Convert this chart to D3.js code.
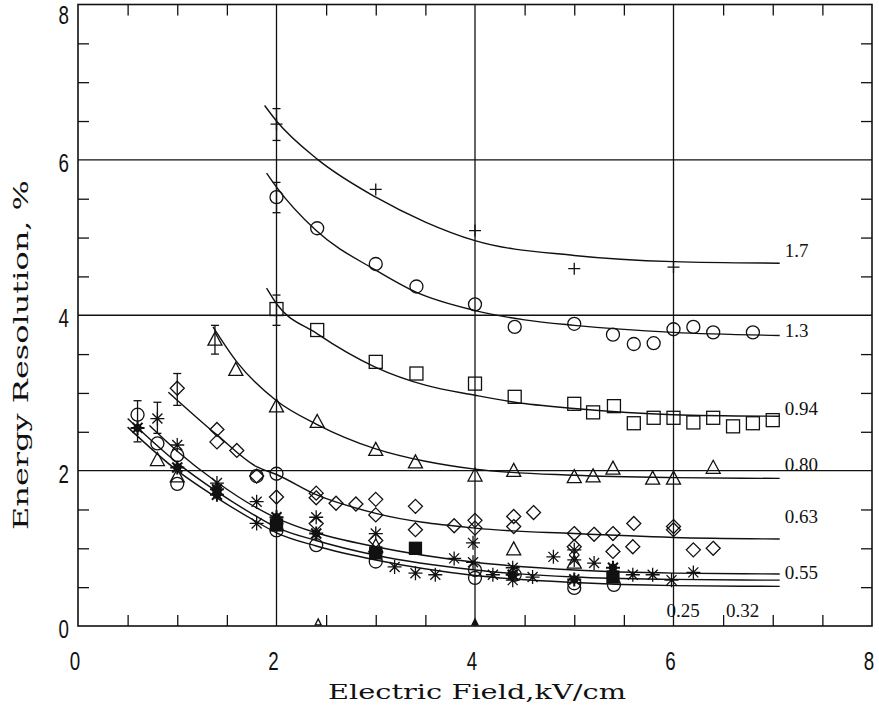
<!DOCTYPE html>
<html>
<head>
<meta charset="utf-8">
<script src="https://cdn.jsdelivr.net/npm/d3@7"></script>
<style>
  html, body { margin: 0; padding: 0; background: #fff; }
  svg { display: block; }
</style>
</head>
<body>
<svg id="chart" width="879" height="714"></svg>
<script>
// ---- axis ticks ----
const xTickValues = [0, 2, 4, 6, 8];
const yTickValues = [0, 2, 4, 6, 8];
const minorStep = 0.5;

// ---- fitted curves (E field kV/cm, resolution %) ----
const curve17  = [[1.88,6.70],[2,6.50],[2.42,6.0],[3,5.52],[3.5,5.20],[4,4.96],[5,4.77],[6,4.69],[7.07,4.67]];
const curve13  = [[1.9,5.83],[2,5.65],[2.4,5.09],[3,4.58],[3.4,4.30],[4,4.06],[4.5,3.94],[5,3.87],[6,3.78],[7.07,3.74]];
const curve094 = [[1.9,4.35],[2,4.15],[2.4,3.77],[3,3.33],[3.5,3.10],[4,2.97],[4.4,2.88],[5,2.80],[6,2.72],[7.07,2.70]];
const curve080 = [[1.36,3.85],[1.6,3.40],[2,2.90],[2.4,2.60],[3,2.28],[3.5,2.12],[4,2.02],[5,1.94],[6,1.91],[7.07,1.90]];
const curve063 = [[0.91,3.01],[1.4,2.46],[1.8,2.05],[2,1.95],[2.4,1.69],[3,1.45],[4,1.26],[5,1.19],[6,1.14],[7.07,1.12]];
const curve055 = [[0.72,2.58],[1,2.25],[1.4,1.85],[1.8,1.52],[2,1.39],[2.4,1.20],[3,1.02],[4,0.82],[5,0.72],[6,0.68],[7.07,0.67]];
const curve032 = [[0.5,2.67],[1,2.10],[1.4,1.73],[1.8,1.41],[2,1.27],[2.4,1.10],[3,0.91],[4,0.72],[5,0.63],[6,0.60],[7.07,0.59]];
const curve025 = [[0.5,2.56],[1,2.00],[1.4,1.65],[1.8,1.34],[2,1.20],[2.4,1.03],[3,0.85],[4,0.65],[5,0.56],[6,0.52],[7.07,0.51]];

// ---- measured points ----
const plusPoints = [[2,6.46],[3,5.62],[4,5.09],[5,4.60],[6,4.62]];
const circlePoints = [[2,5.52],[2.41,5.12],[3,4.66],[3.41,4.37],[4,4.14],[4.4,3.85],[5,3.89],[5.39,3.75],[5.6,3.63],[5.8,3.64],[6,3.82],[6.2,3.85],[6.4,3.78],[6.8,3.78],
  [0.6,2.72],[0.8,2.35],[1,2.20],[1,1.83],[1.8,1.93],[2,1.96],[2,1.23],[2.4,1.04],[3,0.83],[4,0.72],[4,0.62],[4.4,0.66],[5,0.55],[5,0.49],[5.4,0.53]];
const squarePoints = [[2,4.08],[2.41,3.81],[3,3.40],[3.41,3.25],[4,3.12],[4.4,2.95],[5,2.86],[5.19,2.75],[5.4,2.83],[5.6,2.61],[5.8,2.68],[6,2.68],[6.2,2.62],[6.4,2.68],[6.6,2.57],[6.8,2.61],[7,2.65]];
const trianglePoints = [[1.38,3.68],[1.59,3.29],[2,2.82],[2.41,2.62],[3,2.26],[3.4,2.10],[4,1.93],[4.39,1.99],[5,1.91],[5.19,1.92],[5.39,2.02],[5.79,1.89],[6,1.89],[6.4,2.03],
  [0.8,2.13],[1,1.92],[3,1.02],[4.39,0.98],[5,0.81]];
const smallTrianglePoints = [[2.42,0.04],[4,0.04]];
const diamondPoints = [[1,3.06],[1.4,2.53],[1.4,2.37],[1.6,2.26],[1.8,1.93],[2,1.66],[2.4,1.71],[2.4,1.65],[2.6,1.58],[2.8,1.57],[3,1.63],[3,1.43],[3.4,1.54],[3.4,1.24],[3.79,1.29],[4,1.36],[4,1.26],
  [4.39,1.41],[4.39,1.28],[4.59,1.46],[5,1.19],[5.2,1.18],[5.39,1.19],[5.6,1.32],[6,1.28],[6,1.24],[5,1.02],[5.39,0.96],[5.59,1.02],[6.2,0.98],[6.4,1.0],[2.4,1.32],[3,1.10]];
const asteriskPoints = [[0.8,2.67],[1,2.33],[1.4,1.84],[1.8,1.60],[1.8,1.32],[2.4,1.40],[3,1.19],[3.19,0.76],[3.4,0.68],[3.6,0.66],[3.79,0.87],[3.98,1.07],[3.98,0.82],[4.18,0.66],
  [4.38,0.75],[4.38,0.59],[4.58,0.63],[4.79,0.89],[5,0.98],[5,0.85],[5.2,0.81],[5.59,0.66],[5.79,0.66],[5.98,0.59],[6.2,0.69]];
const boldAsteriskPoints = [[0.6,2.55],[1,2.04],[1.4,1.69],[1.4,1.76],[2,1.32],[2,1.40],[2.4,1.19],[3,0.94],[4.38,0.66],[5.39,0.75],[5,0.60]];
const filledSquarePoints = [[3.4,1.0],[2,1.30],[5.39,0.63],[3,0.94]];

// error bars: [x, low, high]
const errorBars = [[2,6.25,6.66],[2,5.32,5.71],[2,3.87,4.26],[1.38,3.50,3.87],[1,2.84,3.25],[0.6,2.37,2.90],[0.8,2.48,2.88]];

// curve end labels: [text, x, y]
const curveLabels = [["1.7",7.12,4.75],["1.3",7.12,3.72],["0.94",7.12,2.71],["0.80",7.12,1.99],["0.63",7.12,1.32],["0.55",7.12,0.61],["0.25",5.93,0.11],["0.32",6.53,0.11]];

// ---- layout ----
const svg = d3.select("#chart");
const x = d3.scaleLinear().domain([0, 8]).range([78, 872]);
const y = d3.scaleLinear().domain([0, 8]).range([626, 4.5]);
const ink = "#111";

const minorX = d3.range(0, 8.0001, minorStep).filter(v => v % 2 !== 0);
const minorY = d3.range(0, 8.0001, minorStep).filter(v => v % 2 !== 0);

// inward minor ticks via d3 axes
const tickLen = 11;
const axes = [
  [d3.axisBottom(x).tickValues(minorX).tickSize(-tickLen).tickFormat(""), `translate(0,${y(0)})`],
  [d3.axisTop(x).tickValues(minorX).tickSize(-tickLen).tickFormat(""), `translate(0,${y(8)})`],
  [d3.axisLeft(y).tickValues(minorY).tickSize(-tickLen).tickFormat(""), `translate(${x(0)},0)`],
  [d3.axisRight(y).tickValues(minorY).tickSize(-tickLen).tickFormat(""), `translate(${x(8)},0)`]
];
axes.forEach(([ax, tr]) => {
  const g = svg.append("g").attr("transform", tr).call(ax);
  g.select(".domain").remove();
  g.selectAll("line").attr("stroke", ink).attr("stroke-width", 1.3);
});

// grid lines at the major values
const gridG = svg.append("g").attr("stroke", ink).attr("stroke-width", 1.3);
gridG.selectAll(".gx").data([2, 4, 6]).join("line")
  .attr("x1", d => x(d)).attr("x2", d => x(d)).attr("y1", y(0)).attr("y2", y(8));
gridG.selectAll(".gy").data([2, 4, 6]).join("line")
  .attr("y1", d => y(d)).attr("y2", d => y(d)).attr("x1", x(0)).attr("x2", x(8));

// frame
svg.append("rect").attr("x", x(0)).attr("y", y(8)).attr("width", x(8) - x(0)).attr("height", y(0) - y(8))
  .attr("fill", "none").attr("stroke", ink).attr("stroke-width", 1.6);

// tick labels: tall, narrow digits
const tickFont = "'Liberation Sans', Arial, sans-serif";
svg.append("g").selectAll("text").data(xTickValues).join("text")
  .attr("transform", d => `translate(${x(d) - 3},670) scale(0.75,1)`).attr("text-anchor", "middle")
  .attr("font-family", tickFont).attr("font-size", 25).attr("fill", ink).text(d => d);
svg.append("g").selectAll("text").data(yTickValues).join("text")
  .attr("transform", d => `translate(69,${Math.max(y(d) + 12, 24)}) scale(0.75,1)`).attr("text-anchor", "end")
  .attr("font-family", tickFont).attr("font-size", 25).attr("fill", ink).text(d => d);

// axis titles
const titleFont = "'DejaVu Serif', 'Liberation Serif', serif";
svg.append("text").attr("x", 477).attr("y", 699).attr("text-anchor", "middle")
  .attr("font-family", titleFont).attr("font-size", 20).attr("fill", ink)
  .attr("textLength", 298).attr("lengthAdjust", "spacingAndGlyphs")
  .text("Electric Field,kV/cm");
svg.append("text").attr("transform", "translate(28,355) rotate(-90)").attr("text-anchor", "middle")
  .attr("font-family", titleFont).attr("font-size", 21).attr("fill", ink)
  .attr("textLength", 350).attr("lengthAdjust", "spacingAndGlyphs")
  .text("Energy Resolution, %");

// curves
const line = d3.line().x(d => x(d[0])).y(d => y(d[1])).curve(d3.curveMonotoneX);
svg.append("g").attr("fill", "none").attr("stroke", ink).attr("stroke-width", 1.4)
  .selectAll("path").data([curve17, curve13, curve094, curve080, curve063, curve055, curve032, curve025]).join("path")
  .attr("d", line);

// error bars
const eb = svg.append("g").attr("stroke", ink).attr("stroke-width", 1.3);
errorBars.forEach(([ex, lo, hi]) => {
  eb.append("line").attr("x1", x(ex)).attr("x2", x(ex)).attr("y1", y(lo)).attr("y2", y(hi));
  eb.append("line").attr("x1", x(ex) - 4).attr("x2", x(ex) + 4).attr("y1", y(lo)).attr("y2", y(lo));
  eb.append("line").attr("x1", x(ex) - 4).attr("x2", x(ex) + 4).attr("y1", y(hi)).attr("y2", y(hi));
});

// markers
const mk = svg.append("g").attr("stroke", ink).attr("stroke-width", 1.3);
const at = d => `translate(${x(d[0])},${y(d[1])})`;

mk.append("g").selectAll("circle").data(circlePoints).join("circle")
  .attr("transform", at).attr("r", 6.5).attr("fill", "none");
mk.append("g").selectAll("rect").data(squarePoints).join("rect")
  .attr("transform", at).attr("x", -6.5).attr("y", -6.5).attr("width", 13).attr("height", 13).attr("fill", "none");
mk.append("g").selectAll("path").data(trianglePoints).join("path")
  .attr("transform", at).attr("d", "M0,-8L7,5L-7,5Z").attr("fill", "none");
mk.append("g").selectAll("path").data(smallTrianglePoints).join("path")
  .attr("transform", at).attr("d", "M0,-4L3,2L-3,2Z").attr("fill", (d, i) => i ? ink : "none");
mk.append("g").selectAll("path").data(diamondPoints).join("path")
  .attr("transform", at).attr("d", "M0,-7L7,0L0,7L-7,0Z").attr("fill", "none");
mk.append("g").selectAll("path").data(plusPoints).join("path")
  .attr("transform", at).attr("d", "M-6,0H6M0,-6V6").attr("fill", "none");
const starPath = "M-7,0H7M0,-7V7M-5,-5L5,5M-5,5L5,-5";
mk.append("g").selectAll("path").data(asteriskPoints).join("path")
  .attr("transform", at).attr("d", starPath).attr("fill", "none");
const bold = mk.append("g").attr("stroke-width", 2);
bold.selectAll("path").data(boldAsteriskPoints).join("path")
  .attr("transform", at).attr("d", starPath).attr("fill", "none");
bold.selectAll("circle").data(boldAsteriskPoints).join("circle")
  .attr("transform", at).attr("r", 3.2).attr("fill", ink);
mk.append("g").selectAll("rect").data(filledSquarePoints).join("rect")
  .attr("transform", at).attr("x", -6).attr("y", -6).attr("width", 12).attr("height", 12).attr("fill", ink);

// curve labels
svg.append("g").selectAll("text").data(curveLabels).join("text")
  .attr("x", d => x(d[1])).attr("y", d => y(d[2]))
  .attr("font-family", "'Liberation Serif', 'Times New Roman', serif").attr("font-size", 19).attr("fill", ink)
  .text(d => d[0]);
</script>
</body>
</html>
